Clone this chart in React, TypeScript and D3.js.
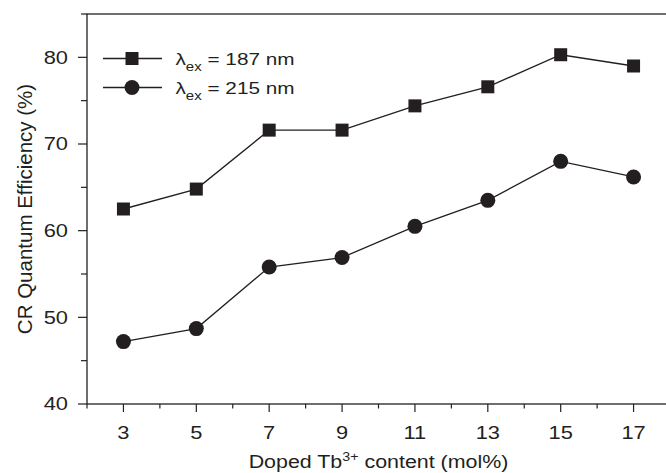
import React from 'react';
import * as d3 from 'd3';

// doped Tb3+ content (mol%)
const content = [3, 5, 7, 9, 11, 13, 15, 17];
// CR quantum efficiency (%)
const eff187 = [62.5, 64.8, 71.6, 71.6, 74.4, 76.6, 80.3, 79.0];
const eff215 = [47.2, 48.7, 55.8, 56.9, 60.5, 63.5, 68.0, 66.2];
const xTicks = [3, 5, 7, 9, 11, 13, 15, 17];
const xMinor = [2, 4, 6, 8, 10, 12, 14, 16, 18];
const yTicks = [40, 50, 60, 70, 80];
const yMinor = [45, 55, 65, 75, 85];

const W = 666, H = 473;
const margin = { top: 14, right: -4, bottom: 69, left: 87 };
const ink = '#231f20';
const font = '"Liberation Sans", Arial, Helvetica, sans-serif';

// the original figure is a bit stretched sideways, so text gets a horizontal scale
const stretched = (tx: number, ty: number, sx: number) => `translate(${tx},${ty}) scale(${sx},1)`;

export default function App() {
    const x = d3.scaleLinear().domain([2, 18]).range([margin.left, W - margin.right]);
    const y = d3.scaleLinear().domain([40, 85]).range([H - margin.bottom, margin.top]);
    const line = d3.line<number>().x((_, i) => x(content[i])).y(d => y(d));
    const y0 = y(40);

    const series = [
        { label: '187 nm', values: eff187, shape: 'square' },
        { label: '215 nm', values: eff215, shape: 'circle' },
    ];

    const marker = (shape: string, cx: number, cy: number, key: any) =>
        shape === 'square'
            ? <rect key={key} x={cx - 6.5} y={cy - 6.5} width={13} height={13} fill={ink} />
            : <circle key={key} cx={cx} cy={cy} r={7.5} fill={ink} />;

    return (
        <svg width={W} height={H} style={{ position: 'absolute', left: 0, top: 0, background: '#fff' }}
            fontFamily={font} fill={ink}>
            {/* frame */}
            <rect x={margin.left} y={margin.top} width={x(18) - margin.left} height={y0 - margin.top}
                fill="none" stroke={ink} strokeWidth={1.3} />

            {/* y axis ticks */}
            {yTicks.map(t => (
                <g key={'y' + t}>
                    <line x1={margin.left - 9} x2={margin.left} y1={y(t)} y2={y(t)} stroke={ink} strokeWidth={1.2} />
                    <text transform={stretched(68, y(t), 1.25)} dy="0.36em" textAnchor="end" fontSize={17.5}>{t}</text>
                </g>
            ))}
            {yMinor.map(t => (
                <line key={'ym' + t} x1={margin.left - 6} x2={margin.left} y1={y(t)} y2={y(t)} stroke={ink} strokeWidth={1.2} />
            ))}

            {/* x axis ticks */}
            {xTicks.map(t => (
                <g key={'x' + t}>
                    <line x1={x(t)} x2={x(t)} y1={y0} y2={y0 + 8} stroke={ink} strokeWidth={1.2} />
                    <text transform={stretched(x(t), y0 + 35, 1.25)} textAnchor="middle" fontSize={17.5}>{t}</text>
                </g>
            ))}
            {xMinor.map(t => (
                <line key={'xm' + t} x1={x(t)} x2={x(t)} y1={y0} y2={y0 + 4.5} stroke={ink} strokeWidth={1.2} />
            ))}

            {/* axis titles */}
            <text transform={stretched((margin.left + x(18)) / 2, H - 5, 1.19)} textAnchor="middle" fontSize={18}>
                Doped Tb<tspan dy="-7" fontSize={12}>3+</tspan><tspan dy="7"> content (mol%)</tspan>
            </text>
            <text transform={`translate(32,${(margin.top + y0) / 2}) rotate(-90)`} textAnchor="middle" fontSize={20.5}>
                CR Quantum Efficiency (%)
            </text>

            {/* data */}
            {series.map(s => (
                <g key={s.label}>
                    <path d={line(s.values) || ''} fill="none" stroke={ink} strokeWidth={1.3} />
                    {s.values.map((v, i) => marker(s.shape, x(content[i]), y(v), i))}
                </g>
            ))}

            {/* legend */}
            {series.map((s, i) => {
                const ly = 58.5 + i * 29;
                return (
                    <g key={'lg' + s.label}>
                        <line x1={103} x2={162} y1={ly} y2={ly} stroke={ink} strokeWidth={1.3} />
                        {marker(s.shape, 132, ly, 'm')}
                        <text transform={stretched(175.5, ly + 6.5, 1.2)} fontSize={17.3}>
                            λ<tspan dy="5.5" fontSize={12.5}>ex</tspan><tspan dy="-5.5"> = {s.label}</tspan>
                        </text>
                    </g>
                );
            })}
        </svg>
    );
}
